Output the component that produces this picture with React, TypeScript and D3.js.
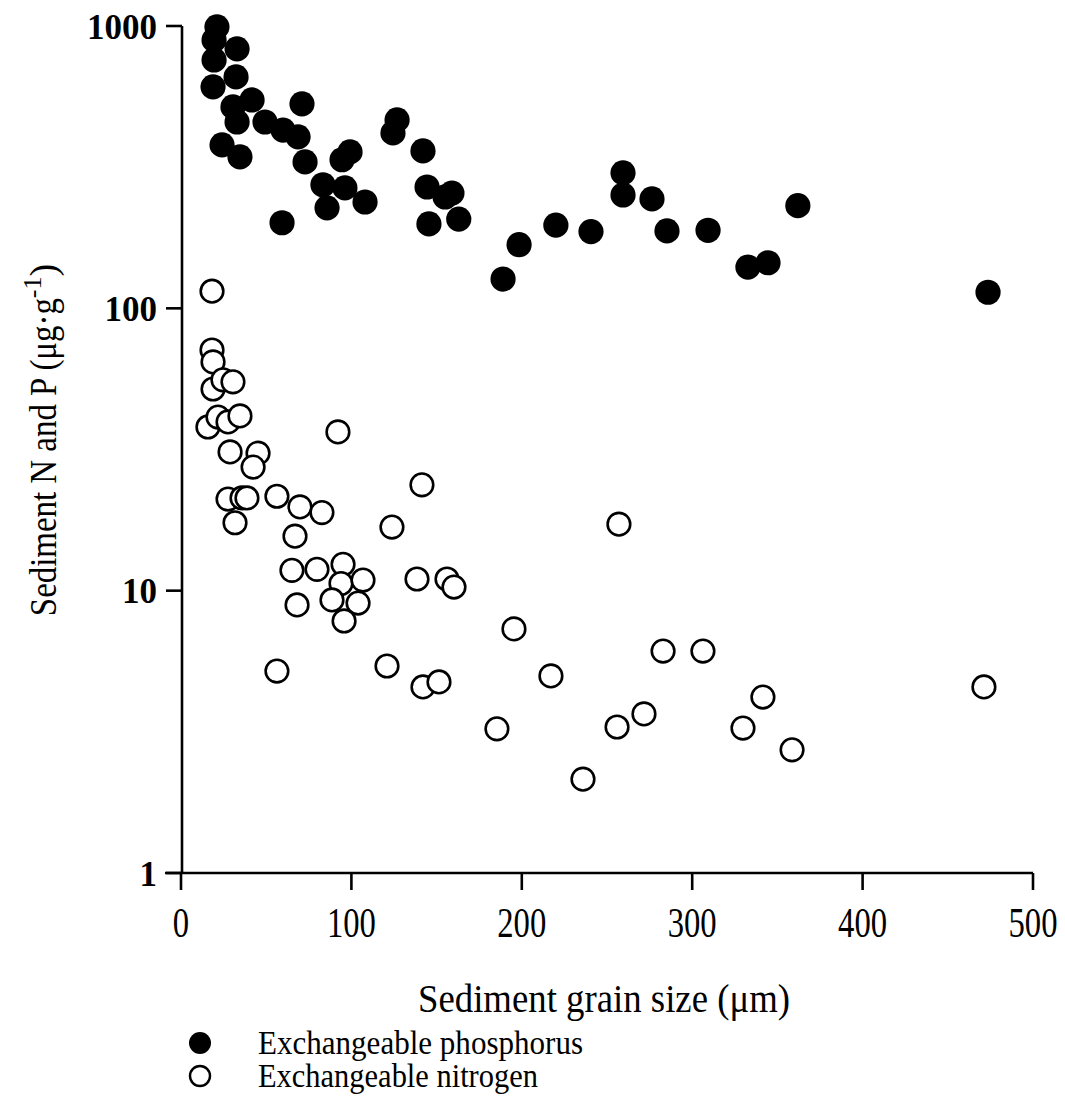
import React from "react";
import * as d3 from "d3";

// Exchangeable phosphorus: grain size (µm) and concentration (µg·g-1)
const grainP = [21.1, 19.4, 32.9, 19.4, 32.3, 18.8, 24.1, 34.6, 30.5, 32.9, 41.7, 49.3, 59.9, 68.7, 71.0, 72.8, 59.3, 99.2, 94.5, 83.3, 96.2, 85.7, 108, 126.8, 124.4, 142, 144.4, 159, 155, 145.5, 163, 198.4, 189, 220, 240.6, 259.4, 259.4, 276.4, 285.2, 309.3, 362, 332.7, 344.5, 473.6];
const phosphorus = [993, 893, 830, 758, 660, 609, 379, 344, 517, 457, 547, 457, 428, 405, 530, 330, 201, 358, 336, 274, 267, 227, 238, 465, 418, 361, 269, 256, 248, 199, 207, 168, 127, 197, 187, 302, 252, 244, 188, 189, 231, 140, 145, 114];

// Exchangeable nitrogen: grain size (µm) and concentration (µg·g-1)
const grainN = [18.2, 18.2, 18.8, 18.8, 24.6, 30.5, 15.8, 21.7, 27.6, 34.6, 28.8, 45.2, 42.3, 27.6, 35.8, 38.7, 56.3, 69.8, 82.7, 31.7, 66.9, 92.1, 65.1, 79.8, 95.1, 93.9, 106.8, 88.6, 103.9, 95.7, 68.1, 56.3, 141.4, 123.8, 138.5, 156.1, 160.2, 195.4, 120.9, 142, 151.4, 185.4, 217.1, 257, 282.9, 271.7, 255.9, 306.3, 341.5, 329.8, 358.6, 471.2, 235.9];
const nitrogen = [115, 71.2, 64.6, 51.8, 55.8, 54.9, 38.0, 41.2, 39.6, 41.6, 31.0, 30.7, 27.4, 21.1, 21.3, 21.3, 21.6, 19.8, 18.9, 17.4, 15.6, 36.5, 11.8, 11.9, 12.4, 10.6, 10.9, 9.27, 9.04, 7.81, 8.9, 5.19, 23.7, 16.8, 11.0, 11.0, 10.3, 7.32, 5.41, 4.56, 4.75, 3.24, 4.99, 17.2, 6.11, 3.66, 3.29, 6.11, 4.2, 3.26, 2.73, 4.56, 2.15];

const xTicks = [0, 100, 200, 300, 400, 500];
const yTicks = [1, 10, 100, 1000];

const legendItems = ["Exchangeable phosphorus", "Exchangeable nitrogen"];

const serif = "'Liberation Serif', 'Times New Roman', serif";

export default function App() {
  const x = d3.scaleLinear().domain([0, 500]).range([181, 1033]);
  const y = d3.scaleLog().domain([1, 1000]).range([873, 26]);
  const axisX0 = 182;
  const axisY0 = y(1);
  const stroke = 2.6;

  const pPoints = grainP.map((g, i) => ({ g, v: phosphorus[i] }));
  const nPoints = grainN.map((g, i) => ({ g, v: nitrogen[i] }));

  return (
    <svg
      width={1065}
      height={1101}
      style={{ position: "absolute", left: 0, top: 0, background: "#fff" }}
      fontFamily={serif}
    >
      {/* axes */}
      <g stroke="#000" strokeWidth={stroke} fill="none">
        <line x1={axisX0} x2={axisX0} y1={y(1000)} y2={axisY0} />
        <line x1={165} x2={x(500)} y1={axisY0} y2={axisY0} />
        {yTicks.map((t) => (
          <line key={"yt" + t} x1={axisX0 - 16} x2={axisX0} y1={y(t)} y2={y(t)} />
        ))}
        {xTicks.map((t) => (
          <line key={"xt" + t} x1={x(t)} x2={x(t)} y1={axisY0} y2={axisY0 + 17} />
        ))}
      </g>

      {/* y tick labels */}
      {yTicks.map((t) => (
        <text
          key={"yl" + t}
          x={157}
          y={y(t)}
          dy="0.36em"
          textAnchor="end"
          fontSize={35}
          fontWeight="bold"
          fill="#000"
        >
          {t}
        </text>
      ))}

      {/* x tick labels */}
      {xTicks.map((t) => (
        <text
          key={"xl" + t}
          x={x(t)}
          y={937}
          textAnchor="middle"
          fontSize={43}
          fill="#000"
          transform={`translate(${x(t)},0) scale(0.76,1) translate(${-x(t)},0)`}
        >
          {t}
        </text>
      ))}

      {/* axis titles */}
      <text
        x={604}
        y={1012}
        textAnchor="middle"
        fontSize={40}
        fill="#000"
        textLength={372}
        lengthAdjust="spacingAndGlyphs"
      >
        Sediment grain size (μm)
      </text>
      <text
        transform="translate(56,440) rotate(-90)"
        textAnchor="middle"
        fontSize={38}
        fill="#000"
      >
        <tspan textLength={318} lengthAdjust="spacingAndGlyphs">Sediment N and P (μg·g</tspan>
        <tspan fontSize={26} dy={-15}>-1</tspan>
        <tspan dy={15}>)</tspan>
      </text>

      {/* nitrogen (open) */}
      <g fill="#fff" stroke="#000" strokeWidth={2.6}>
        {nPoints.map((d, i) => (
          <circle key={"n" + i} cx={x(d.g)} cy={y(d.v)} r={11.3} />
        ))}
      </g>

      {/* phosphorus (filled) */}
      <g fill="#000">
        {pPoints.map((d, i) => (
          <circle key={"p" + i} cx={x(d.g)} cy={y(d.v)} r={12.6} />
        ))}
      </g>

      {/* legend */}
      <circle cx={200} cy={1043} r={11} fill="#000" />
      <circle cx={200} cy={1076} r={10} fill="#fff" stroke="#000" strokeWidth={2.4} />
      {legendItems.map((label, i) => (
        <text
          key={label}
          x={258}
          y={1043 + i * 33}
          dy="0.32em"
          fontSize={33}
          fill="#000"
          textLength={i === 0 ? 325 : 280}
          lengthAdjust="spacingAndGlyphs"
        >
          {label}
        </text>
      ))}
    </svg>
  );
}
